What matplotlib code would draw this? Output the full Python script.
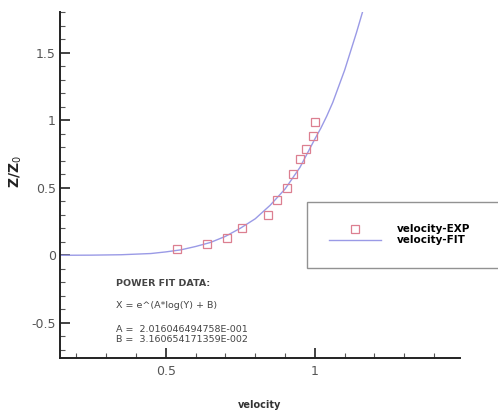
import matplotlib
matplotlib.use("Agg")
import matplotlib.pyplot as plt
from matplotlib.ticker import MultipleLocator

plt.rcParams['font.family'] = ['DejaVu Sans']

exp_x = [0.536, 0.637, 0.704, 0.754, 0.843, 0.874, 0.905, 0.927, 0.950, 0.970, 0.995, 1.000]
exp_y = [0.05, 0.086, 0.13, 0.20, 0.30, 0.41, 0.50, 0.60, 0.716, 0.79, 0.88, 0.987]

# fit curve
fit_x = [0.145, 0.25, 0.35, 0.45, 0.50, 0.55, 0.60, 0.65, 0.70, 0.75, 0.80, 0.85,
         0.90, 0.95, 1.00, 1.02, 1.04, 1.06, 1.08, 1.10, 1.12, 1.14, 1.16]
fit_y = [0.0, 0.001, 0.004, 0.013, 0.025, 0.04, 0.065, 0.095, 0.14, 0.20, 0.27, 0.37,
         0.49, 0.65, 0.86, 0.94, 1.03, 1.13, 1.25, 1.37, 1.51, 1.65, 1.80]

fit_text = ["POWER FIT DATA:", "X = e^(A*log(Y) + B)",
            "A =  2.016046494758E-001", "B =  3.160654171359E-002"]

fig = plt.figure(figsize=(4.98, 4.17), dpi=100)
ax = fig.add_axes([60/498, 1 - 358/417, 400/498, 346/417])

ax.plot(fit_x, fit_y, color='#9a9ae6', lw=1.0, label='velocity-FIT', zorder=2)
ax.plot(exp_x, exp_y, ls='none', marker='s', ms=6, mfc='none', mec='#dc7f90',
        mew=0.9, label='velocity-EXP', zorder=3)

ax.set_xlim(0.145, 1.487)
ax.set_ylim(-0.76, 1.8)

for s in ['top', 'right']:
    ax.spines[s].set_visible(False)
for s in ['left', 'bottom']:
    ax.spines[s].set_linewidth(1.4)
    ax.spines[s].set_color('#222222')

ax.xaxis.set_major_locator(MultipleLocator(0.5))
ax.xaxis.set_minor_locator(MultipleLocator(0.1))
ax.yaxis.set_major_locator(MultipleLocator(0.5))
ax.yaxis.set_minor_locator(MultipleLocator(0.1))
ax.xaxis.set_major_formatter(matplotlib.ticker.FuncFormatter(lambda v, p: '%g' % v))
ax.yaxis.set_major_formatter(matplotlib.ticker.FuncFormatter(lambda v, p: '%g' % v))
ax.tick_params(which='major', direction='in', length=7, width=1.2, labelsize=9,
               colors='#222222', labelcolor='#555555')
ax.tick_params(which='minor', direction='in', length=3.5, width=0.8, colors='#555555')
ax.tick_params(axis='x', pad=5)
ax.tick_params(axis='y', pad=3)

ax.set_xlabel('velocity', fontsize=7, fontweight='bold', color='#333333')
ax.xaxis.set_label_coords(0.5, -0.12)
ax.set_ylabel(r'Z/Z$_0$', fontsize=10, fontweight='bold', color='#222222')
ax.yaxis.set_label_coords(-0.09, 0.54)

ys = [283, 305, 330, 339]
for t, py in zip(fit_text, ys):
    fig.text(116/498, 1 - py/417, t, fontsize=6.8, color='#444444', va='center',
             fontweight='bold' if t.startswith('POWER') else 'normal')

leg = ax.legend(handles=ax.get_lines()[::-1], loc='upper left',
                bbox_to_anchor=(247/400, (358 - 268)/346, 205/400, 66/346),
                mode='expand', frameon=True, fancybox=False,
                handlelength=5.0, handletextpad=1.45, borderpad=2.15, labelspacing=0.1,
                borderaxespad=0, prop={'weight': 'bold', 'size': 7.5})
leg.get_frame().set_edgecolor('#777777')
leg.get_frame().set_linewidth(1.0)

fig.savefig('out.png', dpi=100)
